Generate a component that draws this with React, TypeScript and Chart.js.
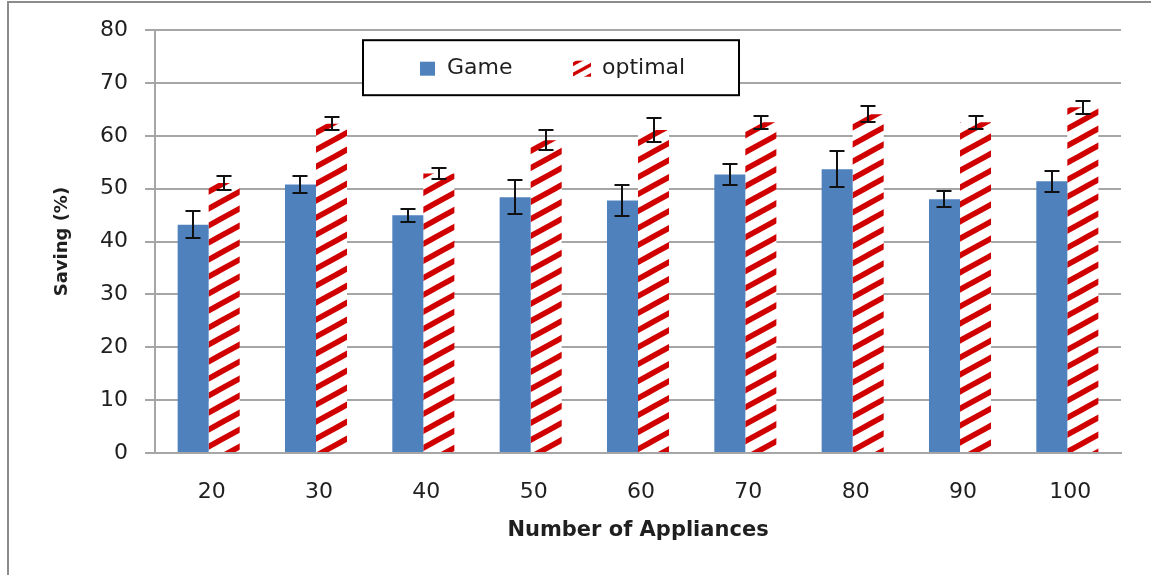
import React, { useEffect, useRef } from 'react';
import { Chart, registerables } from 'chart.js';

Chart.register(...registerables);

const categories = ['20', '30', '40', '50', '60', '70', '80', '90', '100'];
const seriesNames = ['Game', 'optimal'];
const gameValues = [43.2, 50.8, 45.0, 48.4, 47.8, 52.7, 53.7, 48.0, 51.4];
const gameErrors = [2.6, 1.6, 1.2, 3.2, 3.0, 1.9, 3.4, 1.5, 2.0];
const optimalValues = [51.1, 62.3, 52.9, 59.2, 61.1, 62.6, 64.1, 62.6, 65.4];
const optimalErrors = [1.3, 1.2, 1.0, 1.9, 2.3, 1.2, 1.5, 1.2, 1.25];
const yTicks = [0, 10, 20, 30, 40, 50, 60, 70, 80];
const xTitle = 'Number of Appliances';
const yTitle = 'Saving (%)';

const BLUE = '#4f81bd';
const RED = '#d00000';
const GRID = '#a6a6a6';
const TEXT = '#1f1f1f';
const FONT = "'DejaVu Sans', Verdana, sans-serif";

function makeHatch(ctx: CanvasRenderingContext2D): CanvasPattern {
  const W = 31;
  const H = 17;
  const c = document.createElement('canvas');
  c.width = W;
  c.height = H;
  const g = c.getContext('2d')!;
  g.fillStyle = '#ffffff';
  g.fillRect(0, 0, W, H);
  g.strokeStyle = RED;
  g.lineWidth = 5.5;
  for (const k of [0, 1, 2]) {
    g.beginPath();
    g.moveTo(-W, k * H + H);
    g.lineTo(2 * W, k * H - 2 * H);
    g.stroke();
  }
  return ctx.createPattern(c, 'repeat')!;
}

export default function App() {
  const ref = useRef<HTMLCanvasElement>(null);

  useEffect(() => {
    const canvas = ref.current!;
    const ctx2d = canvas.getContext('2d')!;
    const hatch = makeHatch(ctx2d);
    const errors = [gameErrors, optimalErrors];

    const framePlugin = {
      id: 'frame',
      beforeDraw(chart: any) {
        const { ctx, width, height } = chart;
        ctx.save();
        ctx.fillStyle = '#ffffff';
        ctx.fillRect(0, 0, width, height);
        ctx.strokeStyle = '#8c8c8c';
        ctx.lineWidth = 2;
        ctx.beginPath();
        ctx.moveTo(8, height);
        ctx.lineTo(8, 2);
        ctx.lineTo(width, 2);
        ctx.stroke();
        ctx.restore();
      },
    };

    const errorBarPlugin = {
      id: 'errorBars',
      afterDatasetsDraw(chart: any) {
        const { ctx } = chart;
        const yScale = chart.scales.y;
        ctx.save();
        ctx.strokeStyle = '#111111';
        ctx.lineWidth = 2;
        chart.data.datasets.forEach((ds: any, di: number) => {
          const meta = chart.getDatasetMeta(di);
          meta.data.forEach((bar: any, i: number) => {
            const v = ds.data[i] as number;
            const e = errors[di][i];
            const x = Math.round(bar.x);
            const yt = Math.round(yScale.getPixelForValue(v + e));
            const yb = Math.round(yScale.getPixelForValue(v - e));
            ctx.beginPath();
            ctx.moveTo(x, yt);
            ctx.lineTo(x, yb);
            ctx.moveTo(x - 7.5, yt);
            ctx.lineTo(x + 7.5, yt);
            ctx.moveTo(x - 7.5, yb);
            ctx.lineTo(x + 7.5, yb);
            ctx.stroke();
          });
        });
        ctx.restore();
      },
    };

    const legendPlugin = {
      id: 'legendBox',
      afterDraw(chart: any) {
        const { ctx, chartArea: ca } = chart;
        const bx = ca.left + 208;
        const by = ca.top + 10;
        const bw = 376;
        const bh = 55;
        ctx.save();
        ctx.fillStyle = '#ffffff';
        ctx.fillRect(bx, by, bw, bh);
        ctx.strokeStyle = '#000000';
        ctx.lineWidth = 2;
        ctx.strokeRect(bx, by, bw, bh);
        const cy = by + bh / 2 + 1;
        ctx.fillStyle = BLUE;
        ctx.fillRect(bx + 57, cy - 7, 15, 14);
        ctx.font = `22px ${FONT}`;
        ctx.textBaseline = 'middle';
        ctx.textAlign = 'left';
        ctx.fillStyle = TEXT;
        ctx.fillText(chart.data.datasets[0].label, bx + 84, cy);
        ctx.save();
        ctx.translate(bx + 210, cy - 8);
        ctx.scale(0.6, 0.6);
        ctx.translate(0, 6);
        ctx.fillStyle = hatch;
        ctx.fillRect(0, -6, 30, 26.7);
        ctx.restore();
        ctx.fillStyle = TEXT;
        ctx.fillText(chart.data.datasets[1].label, bx + 239, cy);
        ctx.restore();
      },
    };

    const chart = new Chart(canvas, {
      type: 'bar',
      data: {
        labels: categories,
        datasets: [
          { label: seriesNames[0], data: gameValues, backgroundColor: BLUE, borderWidth: 0 },
          { label: seriesNames[1], data: optimalValues, backgroundColor: hatch as any, borderWidth: 0 },
        ],
      },
      options: {
        responsive: false,
        animation: false,
        devicePixelRatio: 1,
        layout: { padding: { top: 30, right: 30, left: 0, bottom: 0 } },
        datasets: { bar: { categoryPercentage: 0.578, barPercentage: 1.0 } },
        plugins: {
          legend: { display: false },
          tooltip: { enabled: false },
        },
        scales: {
          x: {
            grid: { display: false },
            border: { display: true, color: GRID, width: 2 },
            ticks: { font: { family: FONT, size: 22 }, color: TEXT, padding: 18, labelOffset: 3 },
            title: {
              display: true,
              text: xTitle,
              font: { family: FONT, size: 21, weight: 'bold' },
              color: TEXT,
              padding: { top: 0, bottom: 32 },
            },
            afterFit: (s: any) => {
              s.height = 122;
            },
          },
          y: {
            min: 0,
            max: 80,
            afterBuildTicks: (s: any) => {
              s.ticks = yTicks.map((v) => ({ value: v }));
            },
            grid: { color: GRID, lineWidth: 2, drawTicks: true, tickLength: 10 },
            border: { display: true, color: GRID, width: 2 },
            ticks: { font: { family: FONT, size: 22 }, color: TEXT, padding: 17 },
            title: {
              display: true,
              text: yTitle,
              font: { family: FONT, size: 18, weight: 'bold' },
              color: TEXT,
              padding: { top: 52, bottom: 0 },
            },
            afterFit: (s: any) => {
              s.width = 155;
            },
          },
        },
      } as any,
      plugins: [framePlugin, errorBarPlugin, legendPlugin],
    });

    return () => chart.destroy();
  }, []);

  return (
    <div style={{ position: 'fixed', left: 0, top: 0, width: 1151, height: 575, background: '#fff' }}>
      <canvas ref={ref} width={1151} height={575} style={{ display: 'block' }} />
    </div>
  );
}
